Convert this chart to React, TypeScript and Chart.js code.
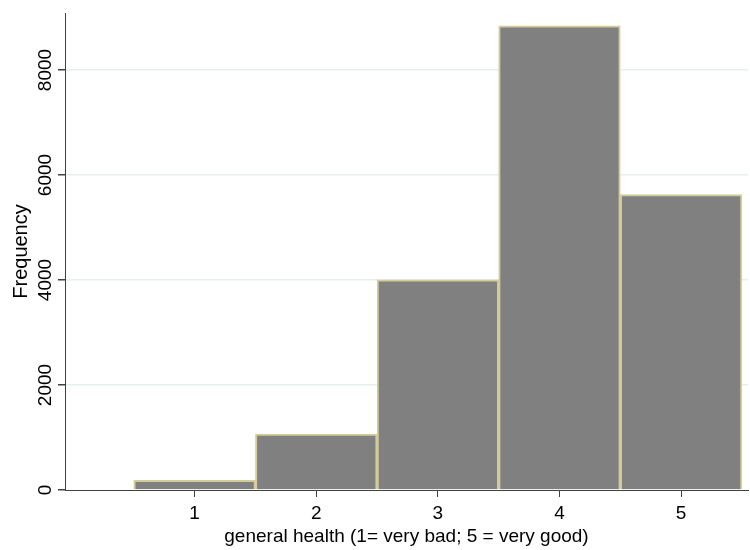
import React, { useEffect, useRef } from "react";
import { Chart, registerables } from "chart.js";

Chart.register(...registerables);

const categories = [1, 2, 3, 4, 5];
const frequencies = [185, 1065, 4005, 8840, 5625];
const yTicks = [0, 2000, 4000, 6000, 8000];
const xTitle = "general health (1= very bad; 5 = very good)";
const yTitle = "Frequency";

export default function App() {
  const ref = useRef<HTMLCanvasElement | null>(null);
  useEffect(() => {
    if (!ref.current) return;
    const family = "'Liberation Sans', Arial, sans-serif";
    const tickFont = { family, size: 19 };
    const xTitleFont = { family, size: 19 };
    const yTitleFont = { family, size: 20 };
    const chart = new Chart(ref.current, {
      type: "bar",
      data: {
        datasets: [
          {
            data: categories.map((c, i) => ({ x: c, y: frequencies[i] })),
            backgroundColor: "#808080",
            borderColor: "#d3cb98",
            borderWidth: 2,
            barPercentage: 1,
            categoryPercentage: 1,
          },
        ],
      },
      options: {
        animation: false,
        responsive: false,
        maintainAspectRatio: false,
        layout: { padding: { top: 13, right: 2, left: 0, bottom: 0 } },
        plugins: { legend: { display: false }, tooltip: { enabled: false } },
        scales: {
          x: {
            type: "linear",
            offset: false,
            min: -0.066,
            max: 5.55,
            afterBuildTicks: (s: any) => {
              s.ticks = categories.map((v) => ({ value: v }));
            },
            afterFit: (s: any) => {
              s.height = 60;
            },
            border: { color: "#404040", width: 1 },
            grid: { offset: false, drawOnChartArea: false, tickColor: "#404040", tickLength: 7 },
            ticks: { color: "#000", font: tickFont, padding: 5, maxRotation: 0, minRotation: 0 },
            title: { display: true, text: xTitle, color: "#000", font: xTitleFont, padding: { top: 0, bottom: 2 } },
          },
          y: {
            type: "linear",
            min: 0,
            max: 9086,
            afterBuildTicks: (s: any) => {
              s.ticks = yTicks.map((v) => ({ value: v }));
            },
            afterFit: (s: any) => {
              s.width = 65;
            },
            border: { color: "#404040", width: 1 },
            grid: {
              color: (c: any) => (c.tick && c.tick.value === 0 ? "rgba(0,0,0,0)" : "#e6eef0"),
              tickColor: "#404040",
              tickLength: 7,
              lineWidth: 1.5,
            },
            ticks: {
              color: "#000",
              font: tickFont,
              minRotation: 90,
              maxRotation: 90,
              crossAlign: "center",
              padding: -9,
              callback: (v: any) => String(v),
            },
            title: { display: true, text: yTitle, color: "#000", font: yTitleFont, padding: { top: 9, bottom: 0 } },
          },
        },
      },
    } as any);
    return () => chart.destroy();
  }, []);
  return (
    <div style={{ position: "fixed", left: 0, top: 0, width: 750, height: 550, background: "#fff" }}>
      <canvas ref={ref} width={750} height={550} style={{ width: 750, height: 550 }} />
    </div>
  );
}
